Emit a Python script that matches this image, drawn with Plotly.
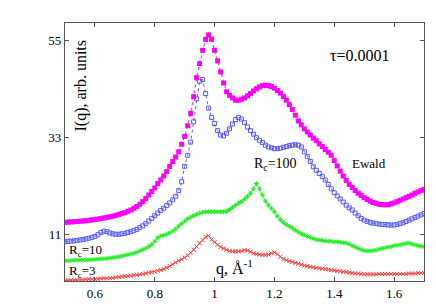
import plotly.graph_objects as go

q = [round(0.50 + 0.01 * i, 2) for i in range(121)]

ewald = [13.8, 13.85, 13.9, 13.95, 14.0, 14.05, 14.1, 14.2, 14.25, 14.35,
         14.45, 14.55, 14.65, 14.8, 14.9, 15.05, 15.2, 15.4, 15.6, 15.8,
         16.0, 16.3, 16.6, 17.0, 17.4, 17.9, 18.5, 19.2, 20.0, 20.8,
         21.6, 22.6, 23.4, 24.3, 25.3, 26.5, 27.6, 28.6, 29.8, 31.5,
         33.3, 35.7, 38.5, 42.3, 46.6, 49.8, 52.8, 55.3, 56.3, 55.3,
         52.8, 50.4, 47.9, 45.4, 43.4, 42.6, 42.0, 41.5, 41.5, 41.7,
         42.0, 42.5, 43.0, 43.6, 44.1, 44.5, 44.8, 44.9, 44.8, 44.6,
         44.2, 43.7, 43.1, 42.3, 41.5, 40.5, 39.4, 38.1, 36.8, 35.9,
         35.0, 34.3, 33.6, 32.9, 32.3, 31.6, 31.0, 30.3, 29.7, 29.0,
         27.8, 26.6, 25.4, 24.3, 23.3, 22.4, 21.7, 21.0, 20.4, 19.9,
         19.4, 19.0, 18.6, 18.3, 18.1, 17.9, 17.8, 17.8, 17.8, 18.0,
         18.2, 18.5, 18.8, 19.1, 19.4, 19.7, 20.0, 20.4, 20.7, 21.0,
         21.3]

rc100 = [9.4, 9.5, 9.55, 9.6, 9.7, 9.8, 9.9, 10.05, 10.2, 10.4,
         10.6, 11.0, 11.5, 11.8, 11.7, 11.4, 11.2, 11.1, 11.1, 11.2,
         11.3, 11.5, 11.7, 11.9, 12.2, 12.6, 13.0, 13.5, 14.1, 14.7,
         15.3, 15.9, 16.5, 17.0, 17.6, 18.2, 18.9, 19.7, 21.0, 23.0,
         26.5, 29.0, 32.0, 36.6, 41.8, 45.8, 46.2, 43.0, 39.7, 37.6,
         36.2, 34.6, 33.6, 33.4, 34.0, 35.0, 36.1, 37.1, 37.6, 37.2,
         36.4, 35.4, 34.6, 33.8, 33.0, 32.4, 31.9, 31.3, 30.9, 30.7,
         30.5, 30.5, 30.6, 30.8, 31.0, 31.2, 31.3, 31.4, 31.3, 30.9,
         29.8, 28.7, 27.6, 26.4, 25.6, 24.9, 24.2, 23.4, 22.4, 21.4,
         20.5, 19.8, 19.1, 18.4, 17.7, 17.1, 16.6, 15.9, 15.3, 14.7,
         14.3, 14.0, 13.8, 13.6, 13.5, 13.4, 13.3, 13.3, 13.2, 13.2,
         13.2, 13.3, 13.5, 13.7, 14.0, 14.3, 14.6, 14.9, 15.2, 15.5,
         15.8]

rc10 = [5.1, 5.1, 5.15, 5.2, 5.2, 5.25, 5.25, 5.3, 5.3, 5.35,
        5.4, 5.45, 5.5, 5.55, 5.6, 5.7, 5.8, 5.9, 6.0, 6.15,
        6.3, 6.45, 6.6, 6.8, 7.0, 7.3, 7.6, 7.9, 8.3, 8.8,
        9.5, 10.3, 10.7, 10.9, 11.1, 11.4, 11.8, 12.3, 12.9, 13.5,
        14.1, 14.6, 15.0, 15.3, 15.6, 15.9, 16.1, 16.2, 16.2, 16.2,
        16.2, 16.2, 16.2, 16.2, 16.3, 16.7, 17.2, 17.7, 18.1, 18.5,
        19.1, 19.7, 20.4, 21.4, 22.6, 21.4, 20.0, 18.6, 17.7, 17.0,
        16.2, 15.2, 14.4, 13.8, 13.3, 12.9, 12.5, 12.0, 11.6, 11.2,
        10.9, 10.6, 10.4, 10.1, 9.9, 9.8, 9.7, 9.6, 9.5, 9.5,
        9.4, 9.4, 9.3, 9.2, 9.1, 8.9, 8.5, 8.2, 7.9, 7.6,
        7.4, 7.3, 7.3, 7.4, 7.5, 7.7, 7.9, 8.0, 8.2, 8.3,
        8.5, 8.6, 8.7, 8.9, 9.0, 9.1, 8.9, 8.7, 8.5, 8.4,
        8.3]

rc3 = [0.6, 0.65, 0.7, 0.7, 0.75, 0.8, 0.8, 0.85, 0.9, 0.9,
       0.95, 1.0, 1.05, 1.1, 1.1, 1.15, 1.2, 1.3, 1.4, 1.5,
       1.6, 1.65, 1.7, 1.8, 1.9, 2.0, 2.1, 2.25, 2.4, 2.5,
       2.6, 2.8, 3.0, 3.2, 3.5, 3.9, 4.3, 4.7, 5.1, 5.4,
       5.8, 6.3, 6.9, 7.6, 8.3, 9.1, 9.8, 10.5, 10.8, 9.9,
       9.3, 8.7, 8.2, 7.9, 7.6, 7.3, 7.2, 7.2, 7.2, 7.3,
       7.5, 7.4, 7.1, 6.8, 6.6, 6.5, 6.4, 6.4, 6.5, 6.8,
       7.0, 6.6, 6.0, 5.5, 5.2, 5.0, 4.8, 4.6, 4.4, 4.2,
       4.0, 3.9, 3.7, 3.6, 3.5, 3.4, 3.3, 3.2, 3.1, 3.0,
       2.9, 2.8, 2.7, 2.6, 2.5, 2.4, 2.3, 2.2, 2.2, 2.1,
       2.0, 2.0, 2.0, 2.0, 2.0, 2.1, 2.1, 2.1, 2.1, 2.1,
       2.1, 2.1, 2.1, 2.1, 2.1, 2.2, 2.2, 2.2, 2.3, 2.3,
       2.3]

x_ticks = [0.6, 0.8, 1.0, 1.2, 1.4, 1.6]
x_tick_labels = ["0.6", "0.8", "1", "1.2", "1.4", "1.6"]
y_ticks = [11, 33, 55]
y_tick_labels = ["11", "33", "55"]

FONT = "Times New Roman, Liberation Serif, serif"

fig = go.Figure()
fig.add_trace(go.Scatter(
    x=q, y=rc3, mode="lines+markers", name="Rc=3",
    line=dict(color="#ff3b3b", width=0.8),
    marker=dict(symbol="x-thin-open", size=4, line=dict(color="#ff3b3b", width=1))))
fig.add_trace(go.Scatter(
    x=q, y=rc10, mode="lines+markers", name="Rc=10",
    line=dict(color="#22ee22", width=0.8),
    marker=dict(symbol="asterisk-open", size=4, line=dict(color="#22ee22", width=1))))
fig.add_trace(go.Scatter(
    x=q, y=rc100, mode="lines+markers", name="Rc=100",
    line=dict(color="#5a5aff", width=1, dash="dot"),
    marker=dict(symbol="square-open", size=4, color="#5a5aff",
                line=dict(color="#5a5aff", width=1))))
fig.add_trace(go.Scatter(
    x=q, y=ewald, mode="lines+markers", name="Ewald",
    line=dict(color="#ff00ff", width=1, dash="dot"),
    marker=dict(symbol="square", size=5, color="#ff00ff", line=dict(width=0))))

def ann(text, x, y, size=14, angle=0, xanchor="center"):
    fig.add_annotation(x=x, y=y, xref="x", yref="y", text=text, showarrow=False,
                       textangle=angle, xanchor=xanchor, yanchor="middle",
                       font=dict(family=FONT, size=size, color="black"))

ann("I(q), arb. units", 0.553, 44.8, size=16, angle=-90)
ann("τ=0.0001", 1.486, 51.6, size=16)
ann("R<sub>c</sub>=100", 1.205, 27.0, size=14)
ann("Ewald", 1.515, 27.2, size=13)
ann("R<sub>c</sub>=10", 0.505, 7.5, size=13, xanchor="left")
ann("R<sub>c</sub>=3", 0.505, 2.6, size=13, xanchor="left")
ann("q, Å<sup>-1</sup>", 1.068, 3.6, size=16)

axis_common = dict(showgrid=False, zeroline=False, showline=True, linecolor="#555",
                   linewidth=1.2, mirror="ticks", ticks="inside", ticklen=4,
                   tickcolor="#555", tickwidth=1,
                   tickfont=dict(family=FONT, size=13, color="black"))

fig.update_layout(
    width=436, height=305,
    margin=dict(l=57, r=20, t=15, b=25),
    paper_bgcolor="white", plot_bgcolor="white",
    showlegend=False,
    xaxis=dict(range=[0.5, 1.7], tickvals=x_ticks, ticktext=x_tick_labels, **axis_common),
    yaxis=dict(range=[0.5, 59], tickvals=y_ticks, ticktext=y_tick_labels, **axis_common),
)

fig.write_html("out.html")
